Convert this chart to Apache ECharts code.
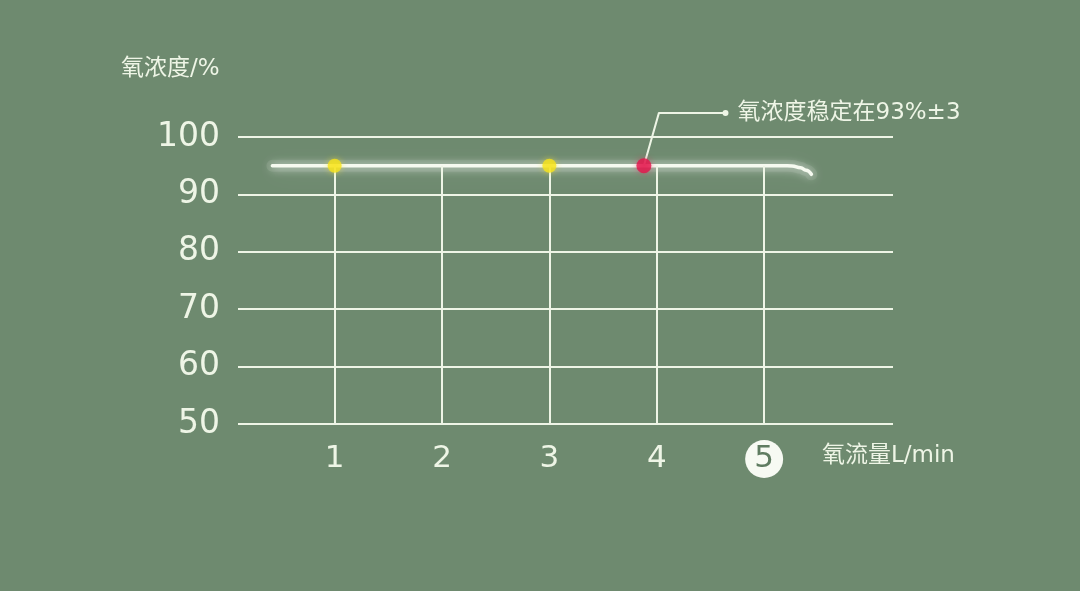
<!DOCTYPE html>
<html><head><meta charset="utf-8">
<script src="https://cdn.jsdelivr.net/npm/echarts@6/dist/echarts.min.js"></script>
<style>html,body{margin:0;padding:0;background:#6e8a6f;}#c{width:1080px;height:591px;}</style>
</head><body><div id="c"></div>
<script>
// data
const xTicks = [1, 2, 3, 4, 5];
const curveX = [0.42, 1, 2, 3, 3.88, 4, 5, 5.17, 5.26, 5.34, 5.39, 5.44];
const curveY = [95, 95, 95, 95, 95, 95, 95, 95, 94.95, 94.65, 94.2, 93.5];
const yellowPts = [[1, 95], [3, 95]];
const redPts = [[3.88, 95]];
const gridTopY = 95;
const leaderPts = [[3.88, 95], [4.02, 104.2], [4.64, 104.2]];
const noteText = '氧浓度稳定在93%±3';
const yName = '氧浓度/%';
const xName = '氧流量L/min';

const W = '#eef5e6';
const chart = echarts.init(document.getElementById('c'));
const curve = curveX.map((x, i) => [x, curveY[i]]);
const numFont = 'DejaVu Sans';
const mixFont = "'DejaVu Sans', 'Noto Sans CJK SC'";
chart.setOption({
  backgroundColor: '#6e8a6f',
  animation: false,
  title: [
    { text: yName, left: 121, top: 58, textStyle: { color: W, fontSize: 23, fontWeight: 'normal', fontFamily: mixFont }, padding: 0 },
    { text: xName, left: 822, top: 445, textStyle: { color: W, fontSize: 23, fontWeight: 'normal', fontFamily: mixFont }, padding: 0 }
  ],
  grid: { left: 238, right: 187, top: 137, bottom: 167 },
  xAxis: {
    type: 'value', min: 0.1, max: 6.2,
    axisLine: { show: false }, axisTick: { show: false }, splitLine: { show: false },
    axisLabel: {
      customValues: xTicks, margin: 16,
      formatter: v => v === 5 ? '{c|5}' : '{n|' + v + '}',
      rich: {
        n: { color: W, fontSize: 31, fontFamily: numFont, height: 38, lineHeight: 38, align: 'center' },
        c: { backgroundColor: '#f7faf3', color: '#5f7c61', borderRadius: 19, width: 38, height: 38, align: 'center', lineHeight: 38, fontSize: 31, fontFamily: numFont }
      }
    }
  },
  yAxis: {
    type: 'value', min: 50, max: 100, interval: 10,
    axisLine: { show: false }, axisTick: { show: false },
    splitLine: { show: true, lineStyle: { color: W, width: 2 } },
    axisLabel: { color: W, fontSize: 33, fontFamily: numFont, margin: 18 }
  },
  series: [
    {
      type: 'line', data: [], z: 1, silent: true,
      markLine: {
        symbol: 'none', silent: true, label: { show: false },
        lineStyle: { color: W, width: 2, type: 'solid' },
        data: xTicks.map(x => [{ coord: [x, 50] }, { coord: [x, gridTopY] }])
      }
    },
    {
      type: 'line', data: curve, smooth: 0.5, smoothMonotone: 'x', symbol: 'none', z: 2, silent: true,
      lineStyle: { color: 'rgba(255,255,255,0.09)', width: 12, cap: 'round', shadowBlur: 26, shadowColor: 'rgba(255,255,255,0.75)', shadowOffsetY: 3 }
    },
    {
      type: 'line', data: curve, smooth: 0.5, smoothMonotone: 'x', symbol: 'none', z: 3,
      lineStyle: { color: '#f6faf0', width: 3.5, cap: 'round', shadowBlur: 10, shadowColor: 'rgba(255,255,255,0.9)', shadowOffsetY: 1 }
    },
    {
      type: 'line', data: leaderPts, clip: false, z: 4,
      showSymbol: true, symbol: 'circle',
      symbolSize: (v, p) => p.dataIndex === leaderPts.length - 1 ? 6 : 0,
      itemStyle: { color: W },
      lineStyle: { color: W, width: 2 },
      endLabel: { show: true, distance: 12, formatter: noteText, color: W, fontSize: 23, fontFamily: mixFont }
    },
    {
      type: 'scatter', data: yellowPts, symbolSize: 14, z: 5,
      itemStyle: { color: '#f8e31a', shadowBlur: 6, shadowColor: 'rgba(248,227,26,0.6)' }
    },
    {
      type: 'scatter', data: redPts, symbolSize: 15, z: 5,
      itemStyle: { color: '#e3134a', shadowBlur: 6, shadowColor: 'rgba(227,19,74,0.5)' }
    }
  ]
});
</script></body></html>
